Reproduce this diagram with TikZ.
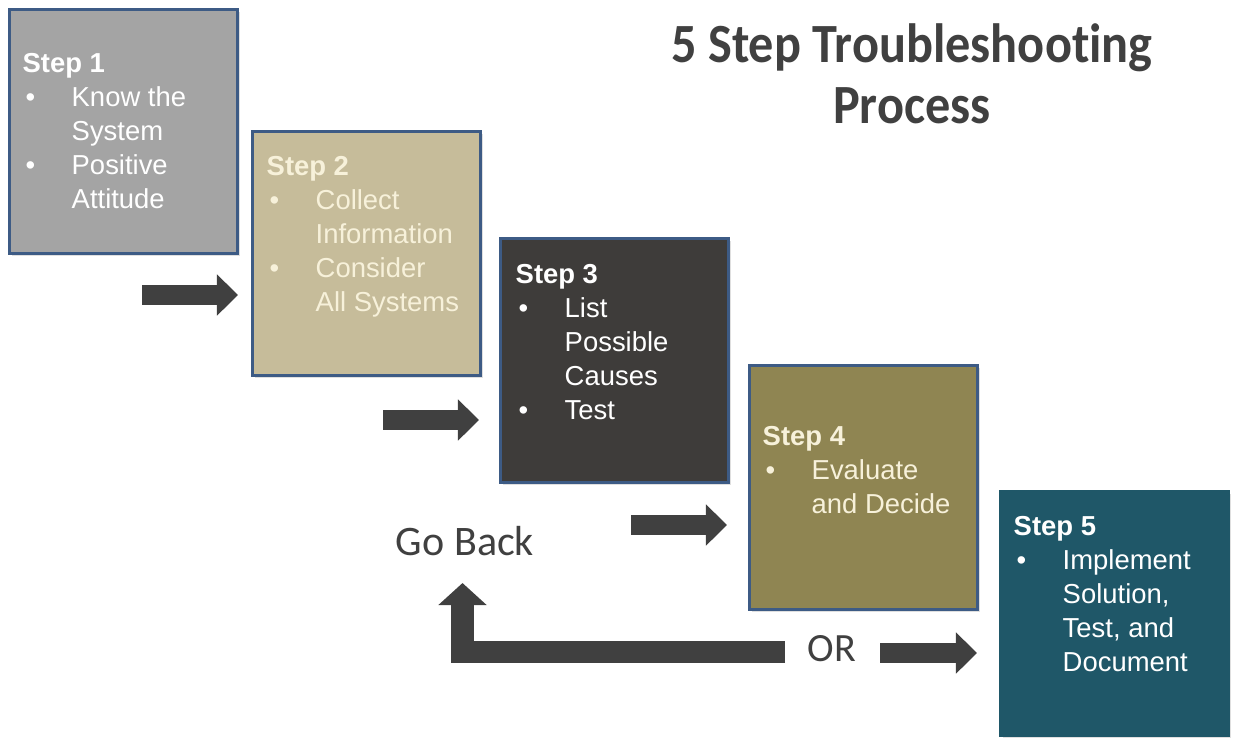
\documentclass[tikz,border=0pt]{standalone}
\usepackage{fontspec}
\setmainfont{Liberation Sans}
\newfontfamily\calib[Ligatures=NoCommon]{Carlito}
\usetikzlibrary{arrows.meta,shadows}
\definecolor{frame}{HTML}{3D5B85}
\definecolor{ink}{HTML}{404040}
\definecolor{cream}{HTML}{F7F1DA}
\definecolor{stepA}{HTML}{A4A4A4}
\definecolor{stepB}{HTML}{C6BC9A}
\definecolor{stepC}{HTML}{3E3C3A}
\definecolor{stepD}{HTML}{8F8552}
\definecolor{stepE}{HTML}{1F5768}
\newcommand{\steplabel}[1]{\strut\textbf{Step #1}}
\newcommand{\bpoint}[1]{\makebox[0.49cm][l]{\hspace{0.03cm}\textbullet}#1}
\newcommand{\bcont}[1]{\hspace*{0.49cm}#1}
\newcommand{\tall}[1]{\scalebox{1}[1.1]{#1}}

\begin{document}
\begin{tikzpicture}[x=0.01cm,y=-0.01cm,
    stepbox/.style={draw=frame,line width=0.03cm,anchor=north west,inner sep=0pt,
      minimum width=2.28cm,minimum height=2.44cm,
      drop shadow={shadow xshift=0.025cm,shadow yshift=-0.025cm,opacity=0.25}},
    steptext/.style={anchor=north west,inner sep=0pt,align=left,text=white,
      font=\fontsize{7.8pt}{9.67pt}\selectfont},
    block/.style={draw=ink,line width=0.2cm,-{Triangle[length=0.21cm,width=0.4cm]}},
    bigword/.style={text=ink,inner sep=0pt,anchor=base}]
  \fill[white] (0,0) rectangle (1233,738);
  \useasboundingbox (0,0) rectangle (1233,738);

  % title
  \node[bigword,anchor=north,align=center,font=\calib\bfseries\fontsize{14.3pt}{17.35pt}\selectfont]
    (title) at (912,19.3) {\strut\tall{5 Step Troubleshooting}\\\tall{Process}};

  % the five steps
  \node[stepbox,fill=stepA] (s1) at (8,8) {};
  \node[stepbox,fill=stepB] (s2) at (251,130) {};
  \node[stepbox,fill=stepC] (s3) at (499,237) {};
  \node[stepbox,fill=stepD] (s4) at (748,364) {};
  \node[stepbox,fill=stepE,draw=stepE] (s5) at (999,490) {};

  \node[steptext] (t1) at (22,48.2) {\steplabel{1}\\\bpoint{Know the}\\\bcont{System}\\\bpoint{Positive}\\\bcont{Attitude}};
  \node[steptext,text=cream] (t2) at (266,151.2) {\steplabel{2}\\\bpoint{Collect}\\\bcont{Information}\\\bpoint{Consider}\\\bcont{All Systems}};
  \node[steptext] (t3) at (515,259.2) {\steplabel{3}\\\bpoint{List}\\\bcont{Possible}\\\bcont{Causes}\\\bpoint{Test}};
  \node[steptext,text=cream] (t4) at (762,421.2) {\steplabel{4}\\\bpoint{Evaluate}\\\bcont{and Decide}};
  \node[steptext] (t5) at (1013,511.2) {\steplabel{5}\\\bpoint{Implement}\\\bcont{Solution,}\\\bcont{Test, and}\\\bcont{Document}};

  % labels of the loop
  \node[bigword,font=\calib\fontsize{11.95pt}{14pt}\selectfont] (back) at (465,555) {Go Back};
  \node[bigword,font=\calib\fontsize{11.4pt}{14pt}\selectfont] (or) at (832,661) {OR};

  % arrow ends
  \coordinate (a1) at (142,295);  \coordinate (b1) at (238,295);
  \coordinate (a2) at (383,420);  \coordinate (b2) at (479,420);
  \coordinate (a3) at (631,525);  \coordinate (b3) at (727,525);
  \coordinate (a4) at (880,653);  \coordinate (b4) at (977,653);
  \coordinate (r0) at (785,652);  \coordinate (r1) at (462.5,652);
  \coordinate (r2) at (462.5,583);

  \draw[block] (a1) -- (b1);
  \draw[block] (a2) -- (b2);
  \draw[block] (a3) -- (b3);
  \draw[block] (a4) -- (b4);
  \draw[block,line width=0.22cm,-{Triangle[length=0.22cm,width=0.47cm]}] (r0) -- (r1) -- (r2);
\end{tikzpicture}
\end{document}
